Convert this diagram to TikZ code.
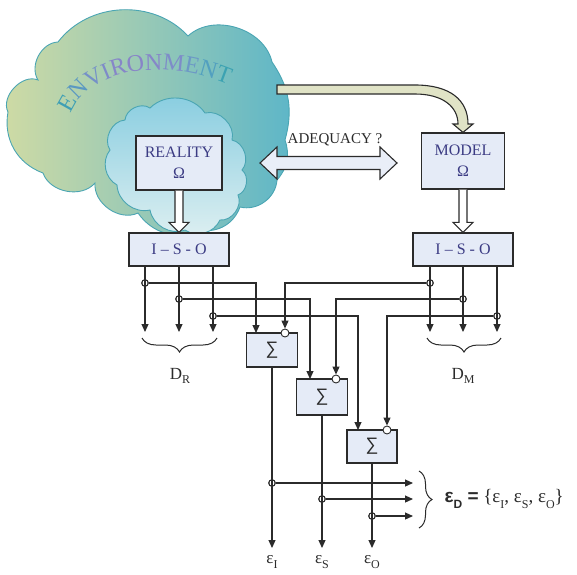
\documentclass[tikz,border=0pt]{standalone}
\usepackage{fontspec}
\setmainfont{Liberation Serif}
\setsansfont{Liberation Sans}
\usetikzlibrary{arrows.meta,calc,decorations.text,decorations.pathreplacing}

\definecolor{ink}{HTML}{2B2B2B}
\definecolor{boxfill}{HTML}{E5EBF7}
\definecolor{navy}{HTML}{3C3C84}
\definecolor{khaki}{HTML}{E0E3C6}
\definecolor{adqfill}{HTML}{E9EEF8}
\definecolor{cloudline}{HTML}{4AA5B3}
\definecolor{envL}{HTML}{D0DBA4}
\definecolor{envR}{HTML}{5DB6C8}
\definecolor{realT}{HTML}{88CDE0}
\definecolor{realB}{HTML}{DDEFF1}
\definecolor{ev1}{HTML}{3E9FB5}
\definecolor{ev2}{HTML}{5A98C2}
\definecolor{ev3}{HTML}{7490C8}
\definecolor{ev4}{HTML}{7E8AC9}
\definecolor{ev5}{HTML}{8686C9}
\definecolor{ev6}{HTML}{8884C8}
\definecolor{ev7}{HTML}{8686C9}
\definecolor{ev8}{HTML}{7E8CC9}
\definecolor{ev9}{HTML}{6C98C6}
\definecolor{ev10}{HTML}{52A0C0}
\definecolor{ev11}{HTML}{3CA2B2}

\newcommand\envfont{\fontsize{24}{24}\selectfont}
\newcommand\lsub[1]{\raisebox{-0.28em}{\fontsize{12}{12}\selectfont #1}}

\begin{document}
\begin{tikzpicture}[x=1pt,y=-1pt,
  sig/.style={draw=ink,line width=1.1pt},
  tip/.style={-{Triangle[width=7pt,length=8pt]}},
  blk/.style={draw=ink,line width=1.2pt,fill=boxfill,inner sep=0pt,text=navy,
    font=\fontsize{16}{21}\selectfont,align=center},
  sumbox/.style={draw=ink,line width=1.1pt,fill=boxfill,inner sep=0pt,
    minimum width=51pt,minimum height=34pt,text=ink,font=\sffamily\fontsize{18}{18}\selectfont},
  junc/.style={circle,draw=ink,line width=0.9pt,inner sep=0pt,minimum size=6.5pt},
  neg/.style={circle,draw=ink,fill=white,line width=0.9pt,inner sep=0pt,minimum size=8pt},
  hollow/.style={draw=ink,line width=1.1pt,fill=white,line join=miter},
  cloud/.style={draw=cloudline,line width=0.9pt},
  lbl/.style={font=\fontsize{17}{17}\selectfont,text=ink},
  brc/.style={draw=ink,line width=1pt,decorate}]

\useasboundingbox (0,0) rectangle (577,574);

% environment cloud
\path[cloud,left color=envL,right color=envR]
  (8,112) to[bend left=70] (38,80) to[bend left=60] (58,42)
  to[bend left=50] (188,36) to[bend left=60] (272,62)
  to[bend left=25] (285,140) to[bend left=30] (277,180)
  to[bend left=50] (240,207) to[bend left=40] (200,230)
  to[bend left=40] (138,213) to[bend left=60] (95,183)
  to[bend left=60] (43,173) to[bend left=40] (8,112) -- cycle;

% curved title
\path[decorate,decoration={text along path,text align=left,
  text={|\envfont\color{ev1}|E|\envfont\color{ev2}|N|\envfont\color{ev3}|V|\envfont\color{ev4}|I|\envfont\color{ev5}|R|\envfont\color{ev6}|O|\envfont\color{ev7}|N|\envfont\color{ev8}|M|\envfont\color{ev9}|E|\envfont\color{ev10}|N|\envfont\color{ev11}|T}}]
  (71,114) .. controls (87,72) and (160,52) .. (240,90);

% reality cloud
\path[cloud,top color=realT,bottom color=realB]
  (117,185) to[bend left=50] (110,150) to[bend left=60] (125,120)
  to[bend left=60] (150,108) to[bend left=50] (205,113)
  to[bend left=60] (232,140) to[bend left=60] (242,170)
  to[bend left=60] (238,195) to[bend left=60] (220,220)
  to[bend left=50] (185,230) to[bend left=50] (150,210)
  to[bend left=50] (117,185) -- cycle;

% main blocks
\node[blk,minimum width=86pt,minimum height=54pt] (real) at (179,163) {REALITY\\Ω};
\node[blk,minimum width=83pt,minimum height=56pt] (model) at (463,161) {MODEL\\Ω};
\node[blk,minimum width=100pt,minimum height=33pt] (isoL) at (179,249.5) {I – S - O};
\node[blk,minimum width=100pt,minimum height=33pt] (isoR) at (463,249.5) {I – S - O};

% curved arrow from the environment to the model
\path[draw=ink,line width=1.1pt,fill=khaki,line join=miter]
  (277,85) -- (415,85) .. controls (450,85) and (468,100) .. (468,124)
  -- (473,124) -- (model.north) -- (453,124) -- (458,124)
  .. controls (458,107) and (443,94) .. (415,94) -- (277,94) -- cycle;

% adequacy double arrow
\path[draw=ink,line width=1.1pt,fill=adqfill,line join=miter]
  (260,163) -- (277,147) -- (277,156.5) -- (380,156.5) -- (380,147)
  -- (397,163) -- (380,179) -- (380,169.5) -- (277,169.5) -- (277,179) -- cycle;
\node[font=\fontsize{15}{15}\selectfont,text=ink] (adq) at (335,140) {ADEQUACY ?};

% hollow down arrows
\path[hollow] ($(real.south)+(-4,0)$) -- ($(isoL.north)+(-4,-10)$) -- ++(-6,0)
  -- (isoL.north) -- ++(10,-10) -- ++(-6,0) -- ($(real.south)+(4,0)$);
\path[hollow] ($(model.south)+(-4,0)$) -- ($(isoR.north)+(-4,-10)$) -- ++(-6,0)
  -- (isoR.north) -- ++(10,-10) -- ++(-6,0) -- ($(model.south)+(4,0)$);

% summing blocks
\node[sumbox] (s1) at (272,350) {∑};
\node[sumbox,minimum height=36pt] (s2) at (322,397) {∑};
\node[sumbox,minimum height=33pt,minimum width=50pt] (s3) at (372,446.5) {∑};

% branch points
\node[junc] (jl1) at (145,283) {};
\node[junc] (jl2) at (179,299) {};
\node[junc] (jl3) at (213,316) {};
\node[junc] (jr1) at (430,283) {};
\node[junc] (jr2) at (463,299) {};
\node[junc] (jr3) at (497,316) {};
\coordinate (dl1) at (145,332);
\coordinate (dl2) at (179,332);
\coordinate (dl3) at (213,332);
\coordinate (dr1) at (430,332);
\coordinate (dr2) at (463,332);
\coordinate (dr3) at (497,332);

% outputs of the I-S-O blocks
\draw[sig,tip] (isoL.south -| jl1) -- (dl1);
\draw[sig,tip] (isoL.south -| jl2) -- (dl2);
\draw[sig,tip] (isoL.south -| jl3) -- (dl3);
\draw[sig,tip] (isoR.south -| jr1) -- (dr1);
\draw[sig,tip] (isoR.south -| jr2) -- (dr2);
\draw[sig,tip] (isoR.south -| jr3) -- (dr3);

% inputs of the summing blocks
\coordinate (p1) at (256,333);
\coordinate (p2) at (310,379);
\coordinate (p3) at (358,430);
\node[neg] (n1) at (285,333) {};
\node[neg] (n2) at (336,379) {};
\node[neg] (n3) at (387,430) {};
\draw[sig,tip] (jl1) -| (p1);
\draw[sig,tip] (jr1) -| (n1);
\draw[sig,tip] (jl2) -| (p2);
\draw[sig,tip] (jr2) -| (n2);
\draw[sig,tip] (jl3) -| (p3);
\draw[sig,tip] (jr3) -| (n3);

% error outputs
\node[junc] (o1) at (272,483) {};
\node[junc] (o2) at (322,499) {};
\node[junc] (o3) at (372,516) {};
\coordinate (e1) at (272,548);
\coordinate (e2) at (322,548);
\coordinate (e3) at (372,548);
\coordinate (h1) at (413,483);
\coordinate (h2) at (413,499);
\coordinate (h3) at (413,516);
\draw[sig,tip] (s1.south) -- (e1);
\draw[sig,tip] (s2.south) -- (e2);
\draw[sig,tip] (s3.south) -- (e3);
\draw[sig,tip] (o1) -- (h1);
\draw[sig,tip] (o2) -- (h2);
\draw[sig,tip] (o3) -- (h3);

% redraw branch circles over the lines
\foreach \j in {jl1,jl2,jl3,jr1,jr2,jr3,o1,o2,o3}
  \draw[ink,line width=0.9pt] (\j) circle[radius=3.25pt];

% labels
\node[lbl] (eI) at (272,562) {ε\lsub{I}};
\node[lbl] (eS) at (322,562) {ε\lsub{S}};
\node[lbl] (eO) at (372,562) {ε\lsub{O}};
\node[lbl] (dR) at (180,376) {D\lsub{R}};
\node[lbl] (dM) at (463,376) {D\lsub{M}};

% braces
\draw[brc,decoration={brace,amplitude=14pt}] (217,338) -- (142,338);
\draw[brc,decoration={brace,amplitude=14pt}] (501,338) -- (427,338);
\draw[brc,decoration={brace,amplitude=13pt}] (419,471) -- (419,528);

\node[anchor=west,font=\fontsize{19}{19}\selectfont,text=ink] (eD) at (441,499)
  {{\sffamily\bfseries ε\lsub{\bfseries D} =} \{ε\lsub{I}, ε\lsub{S}, ε\lsub{O}\}};
\end{tikzpicture}
\end{document}
